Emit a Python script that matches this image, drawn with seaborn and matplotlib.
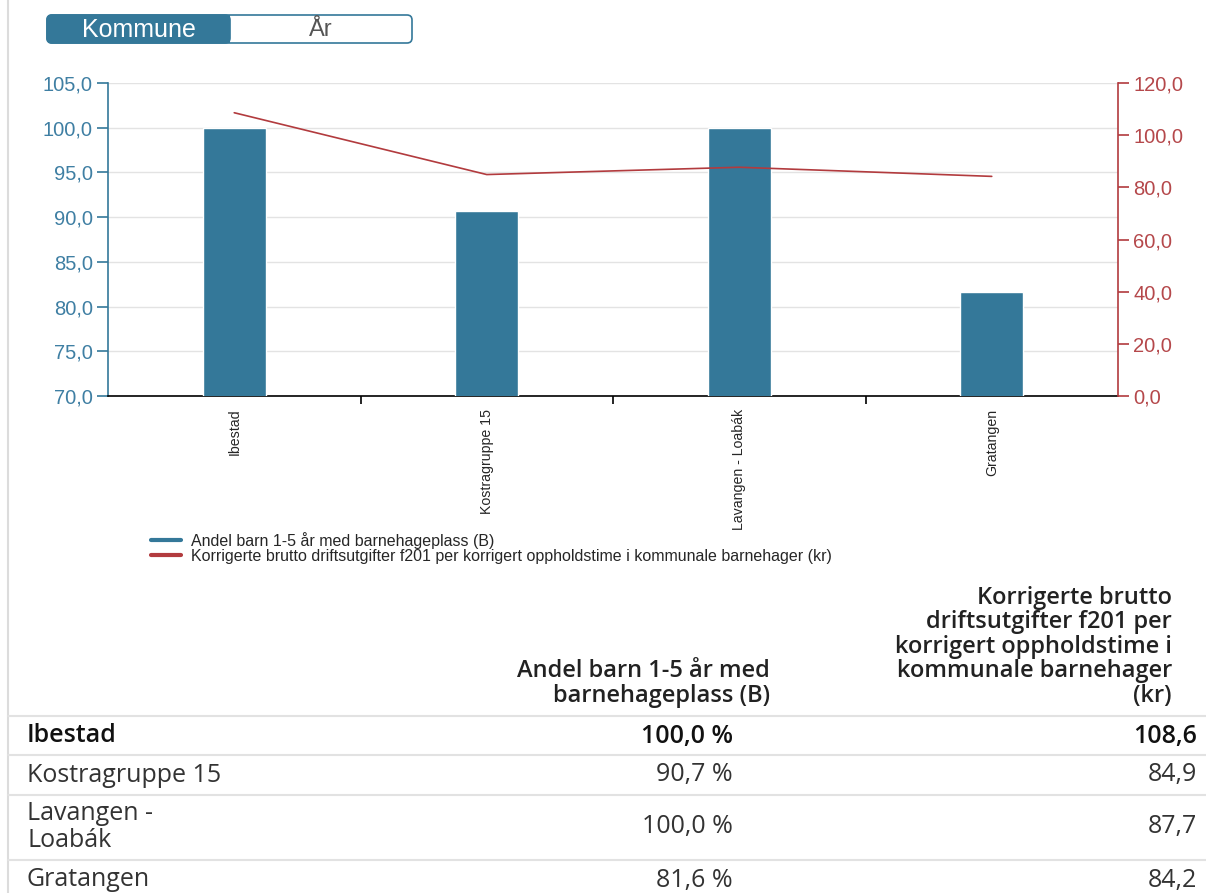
import numpy as np
import pandas as pd
import matplotlib
matplotlib.use("Agg")
import matplotlib.pyplot as plt
import seaborn as sns
from matplotlib.patches import FancyBboxPatch, Rectangle
from matplotlib.ticker import FuncFormatter, FixedLocator

# data
kommuner = ["Ibestad", "Kostragruppe 15", "Lavangen - Loabák", "Gratangen"]
table_names = ["Ibestad", "Kostragruppe 15", "Lavangen -\nLoabák", "Gratangen"]
andel = [100.0, 90.7, 100.0, 81.6]
utgifter = [108.6, 84.9, 87.7, 84.2]
label_andel = "Andel barn 1-5 år med barnehageplass (B)"
label_utg = "Korrigerte brutto driftsutgifter f201 per korrigert oppholdstime i kommunale barnehager (kr)"
head_andel = "Andel barn 1-5 år med\nbarnehageplass (B)"
head_utg = "Korrigerte brutto\ndriftsutgifter f201 per\nkorrigert oppholdstime i\nkommunale barnehager\n(kr)"

BLUE = "#347899"
BLUE_TXT = "#3f7fa3"
RED = "#b23b3e"
RED_TXT = "#b5484b"

sns.set_style("white")
plt.rcParams["font.family"] = ["Liberation Sans", "DejaVu Sans"]

W, H = 1206, 893
fig = plt.figure(figsize=(W / 100, H / 100), dpi=100)

def fx(px):
    return px / W

def fy(py):
    return 1 - py / H

# main chart
ax = fig.add_axes([fx(108), fy(396), fx(1118 - 108), (396 - 83) / H])
df = pd.DataFrame({"kommune": kommuner, "andel": andel})
sns.barplot(data=df, x="kommune", y="andel", color=BLUE, width=0.25,
            saturation=1, ax=ax, zorder=3)
ax.set_ylim(70, 105)
ax.set_xlim(-0.5, 3.5)
ax.set_xlabel("")
ax.set_ylabel("")
ax.set_yticks(np.arange(70, 105.1, 5))
comma = FuncFormatter(lambda v, p: f"{v:.1f}".replace(".", ","))
ax.yaxis.set_major_formatter(comma)
ax.grid(axis="y", color="#e3e3e3", linewidth=1, zorder=0)
ax.tick_params(axis="y", colors=BLUE, labelcolor=BLUE_TXT, labelsize=14.5,
               length=8, width=1.2, direction="out", left=True, pad=3)
ax.tick_params(axis="x", length=0, labelsize=10.2, pad=9)
ax.xaxis.set_minor_locator(FixedLocator([0.5, 1.5, 2.5]))
ax.tick_params(axis="x", which="minor", length=6, width=1.2, color="black", bottom=True)
for lbl in ax.get_xticklabels():
    lbl.set_rotation(90)
    lbl.set_va("top")
for s in ["top", "right"]:
    ax.spines[s].set_visible(False)
ax.spines["left"].set_color(BLUE)
ax.spines["left"].set_linewidth(1.2)
ax.spines["bottom"].set_color("black")
ax.spines["bottom"].set_linewidth(1.2)

ax2 = ax.twinx()
sns.lineplot(x=np.arange(len(utgifter)), y=utgifter, color=RED, linewidth=1.2, ax=ax2)
ax2.set_ylim(0, 120)
ax2.set_yticks(np.arange(0, 120.1, 20))
ax2.yaxis.set_major_formatter(comma)
ax2.tick_params(axis="y", colors=RED, labelcolor=RED_TXT, labelsize=14.5,
                length=8, width=1.2, right=True, pad=3)
for s in ["top", "left", "bottom"]:
    ax2.spines[s].set_visible(False)
ax2.spines["right"].set_color(RED)
ax2.spines["right"].set_linewidth(1.2)
ax2.grid(False)

# legend
fig.legend(handles=[plt.Line2D([], [], color=BLUE, lw=3), plt.Line2D([], [], color=RED, lw=3)],
           labels=[label_andel, label_utg], loc="upper left",
           bbox_to_anchor=(fx(143), fy(524)), frameon=False, fontsize=11.5,
           handlelength=1.9, handletextpad=0.6, labelspacing=0.0, borderpad=0)

# overlay axes in pixel coordinates
ov = fig.add_axes([0, 0, 1, 1], zorder=-1)
ov.set_xlim(0, W)
ov.set_ylim(H, 0)
ov.axis("off")
ov.plot([8, 8], [0, H], color="#dcdcdc", lw=1.5)

# toggle
ov.add_patch(FancyBboxPatch((47, 15), 365, 28, boxstyle="round,pad=0,rounding_size=5",
                            fc="white", ec=BLUE, lw=1.2))
ov.add_patch(FancyBboxPatch((47, 15), 183, 28, boxstyle="round,pad=0,rounding_size=5",
                            fc=BLUE, ec=BLUE, lw=1.2))
ov.add_patch(Rectangle((215, 15), 15, 28, fc=BLUE, ec="none"))
ov.text(139, 30, "Kommune", color="white", fontsize=18, ha="center", va="center")
ov.text(321, 30, "År", color="#555555", fontsize=17, ha="center", va="center")

# table
TFONT = ["Open Sans", "DejaVu Sans"]
ov.text(770, 708, head_andel, ha="right", va="bottom", fontsize=17, fontweight="semibold",
        family=TFONT, color="#222222", linespacing=1.03)
ov.text(1172, 708, head_utg, ha="right", va="bottom", fontsize=17, fontweight="semibold",
        family=TFONT, color="#222222", linespacing=1.03)
row_y = [736, 775, 827, 880]
line_y = [716, 755, 795, 860]
for ly in line_y:
    ov.plot([8, W], [ly, ly], color="#e2e2e2", lw=1.5)
for i, (name, a, u) in enumerate(zip(table_names, andel, utgifter)):
    wt = "semibold" if i == 0 else "normal"
    col = "#111111" if i == 0 else "#333333"
    ov.text(27, row_y[i], name, ha="left", va="center", fontsize=18, fontweight=wt,
            family=TFONT, color=col, linespacing=1.1)
    ov.text(733, row_y[i], f"{a:.1f} %".replace(".", ","), ha="right", va="center",
            fontsize=18, fontweight=wt, family=TFONT, color=col)
    ov.text(1197, row_y[i], f"{u:.1f}".replace(".", ","), ha="right", va="center",
            fontsize=18, fontweight=wt, family=TFONT, color=col)

fig.savefig("out.png", dpi=100)
